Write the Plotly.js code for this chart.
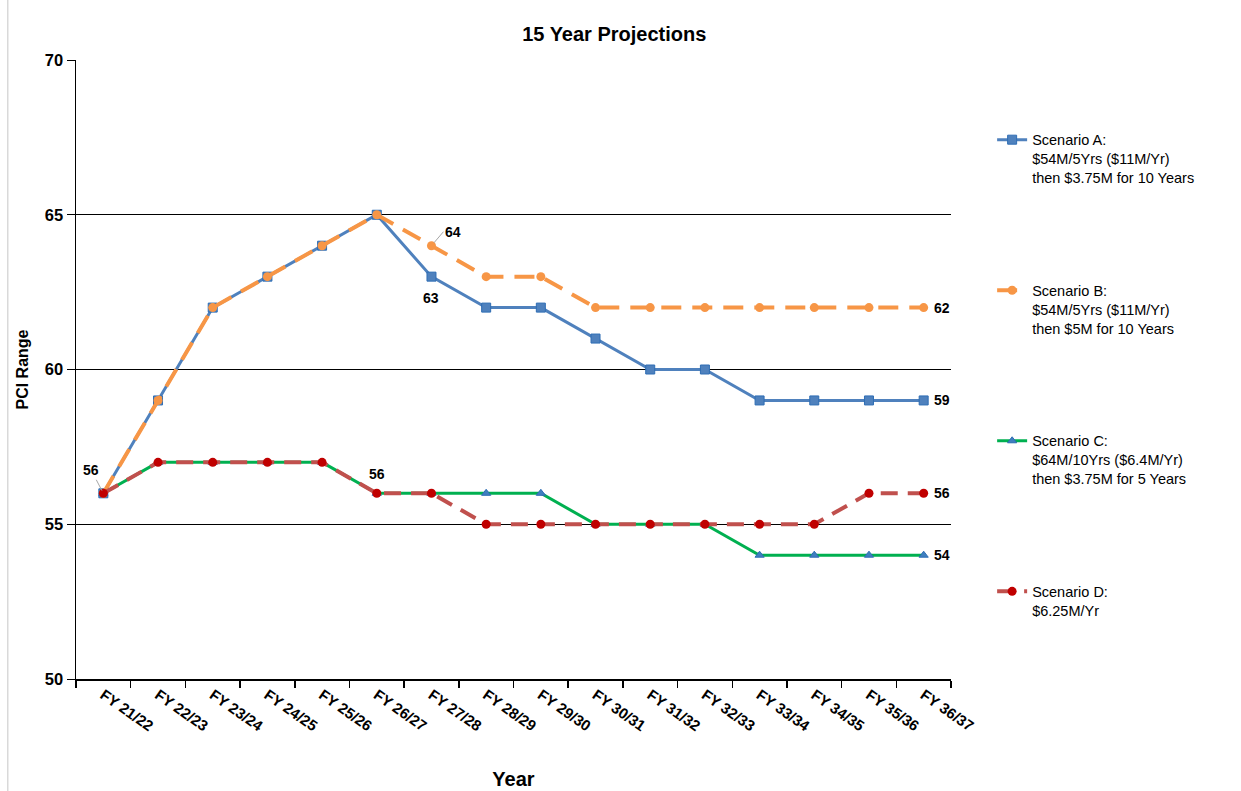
<!DOCTYPE html>
<html>
<head>
<meta charset="utf-8">
<script src="https://cdn.plot.ly/plotly-3.0.1.min.js"></script>
<style>html,body{margin:0;padding:0;background:#fff;}#chart{width:1241px;height:791px;}</style>
</head>
<body>
<div id="chart"></div>
<script>
const years = ["FY 21/22","FY 22/23","FY 23/24","FY 24/25","FY 25/26","FY 26/27","FY 27/28","FY 28/29","FY 29/30","FY 30/31","FY 31/32","FY 32/33","FY 33/34","FY 34/35","FY 35/36","FY 36/37"];
const scenarioA = [56,59,62,63,64,65,63,62,62,61,60,60,59,59,59,59];
const scenarioB = [56,59,62,63,64,65,64,63,63,62,62,62,62,62,62,62];
const scenarioC = [56,57,57,57,57,56,56,56,56,55,55,55,54,54,54,54];
const scenarioD = [56,57,57,57,57,56,56,55,55,55,55,55,55,55,56,56];
const names = [
  "Scenario A:<br>$54M/5Yrs ($11M/Yr)<br>then $3.75M for 10 Years",
  "Scenario B:<br>$54M/5Yrs ($11M/Yr)<br>then $5M for 10 Years",
  "Scenario C:<br>$64M/10Yrs ($6.4M/Yr)<br>then $3.75M for 5 Years",
  "Scenario D:<br>$6.25M/Yr"
];

const font = "Liberation Sans, Arial, sans-serif";
const traces = [
  {x: years, y: scenarioA, name: names[0], legendgroup: "a", mode: "lines+markers",
   line: {color: "#4f81bd", width: 3},
   marker: {symbol: "square", size: 9, color: "#4f81bd", line: {color: "#2e6db4", width: 1}}},
  {x: years, y: scenarioB, name: names[1], legendgroup: "b", mode: "lines+markers",
   line: {color: "#f79646", width: 4, dash: "20px,11px"},
   marker: {symbol: "circle", size: 9, color: "#f79646"}},
  {x: years, y: scenarioC, name: names[2], legendgroup: "c", mode: "lines+markers",
   line: {color: "#00b050", width: 3},
   marker: {symbol: "triangle-up", size: 8, color: "#3f7fbf", line: {color: "#2e6db4", width: 1}}},
  {x: years, y: scenarioD, name: names[3], legendgroup: "d", mode: "lines+markers",
   line: {color: "#c0504d", width: 4, dash: "17px,10px"},
   marker: {symbol: "circle", size: 9, color: "#c00000"}}
];

const lblFont = {family: font, size: 14, color: "#000", weight: "bold"};
const annotations = [
  {x: years[0], y: scenarioA[0], text: "56", showarrow: true, arrowhead: 0, arrowwidth: 1, arrowcolor: "#a6a6a6", ax: -12, ay: -23, standoff: 3, font: lblFont},
  {x: years[6], y: scenarioB[6], text: "64", showarrow: true, arrowhead: 0, arrowwidth: 1, arrowcolor: "#a6a6a6", ax: 12, ay: -14, standoff: 4, xanchor: "left", font: lblFont},
  {x: years[6], y: scenarioA[6], text: "63", showarrow: false, yshift: -21, font: lblFont},
  {x: years[5], y: scenarioC[5], text: "56", showarrow: false, yshift: 19, font: lblFont},
  {x: years[15], y: scenarioB[15], text: "62", showarrow: false, xanchor: "left", xshift: 8, font: lblFont},
  {x: years[15], y: scenarioA[15], text: "59", showarrow: false, xanchor: "left", xshift: 8, font: lblFont},
  {x: years[15], y: scenarioD[15], text: "56", showarrow: false, xanchor: "left", xshift: 8, font: lblFont},
  {x: years[15], y: scenarioC[15], text: "54", showarrow: false, xanchor: "left", xshift: 8, font: lblFont}
];

const layout = {
  width: 1241, height: 791,
  margin: {l: 76, r: 290, t: 60, b: 112},
  paper_bgcolor: "#fff", plot_bgcolor: "#fff",
  font: {family: font, color: "#000"},
  title: {text: "15 Year Projections", font: {family: font, size: 20, weight: "bold", color: "#000"}, x: 0.495, xanchor: "center", y: 0.957, yanchor: "middle"},
  xaxis: {
    type: "category", range: [-0.5, 15.5], tickson: "boundaries",
    showline: true, linecolor: "#000", linewidth: 1.5, mirror: false,
    ticks: "outside", ticklen: 7, tickcolor: "#000", tickwidth: 1.5,
    showgrid: false, zeroline: false, tickangle: 35,
    tickfont: {family: font, size: 15, weight: "bold", color: "#000"},
    automargin: false,
    title: {text: "Year", font: {family: font, size: 20, weight: "bold", color: "#000"}, standoff: 38}
  },
  yaxis: {
    range: [50, 70], dtick: 5, tick0: 50,
    showline: true, linecolor: "#000", linewidth: 1.5,
    ticks: "outside", ticklen: 8, tickcolor: "#000", tickwidth: 1,
    showgrid: true, gridcolor: "#000", gridwidth: 1.3, zeroline: false,
    tickfont: {family: font, size: 16.5, weight: "bold", color: "#000"},
    automargin: false,
    title: {text: "PCI Range", font: {family: font, size: 16, weight: "bold", color: "#000"}, standoff: 12}
  },
  showlegend: true,
  legend: {
    x: 1.047, xanchor: "left", y: 0.897, yanchor: "top",
    font: {family: font, size: 14.5, color: "#000"},
    valign: "top", tracegroupgap: 91, traceorder: "grouped",
    bgcolor: "rgba(0,0,0,0)", itemwidth: 30
  },
  annotations: annotations,
  shapes: [
    {type: "line", xref: "paper", yref: "paper", x0: -0.078, x1: -0.078, y0: -0.2, y1: 1.12, line: {color: "#d9d9d9", width: 1.5}}
  ]
};

Plotly.newPlot("chart", traces, layout, {displayModeBar: false, staticPlot: true});
</script>
</body>
</html>
